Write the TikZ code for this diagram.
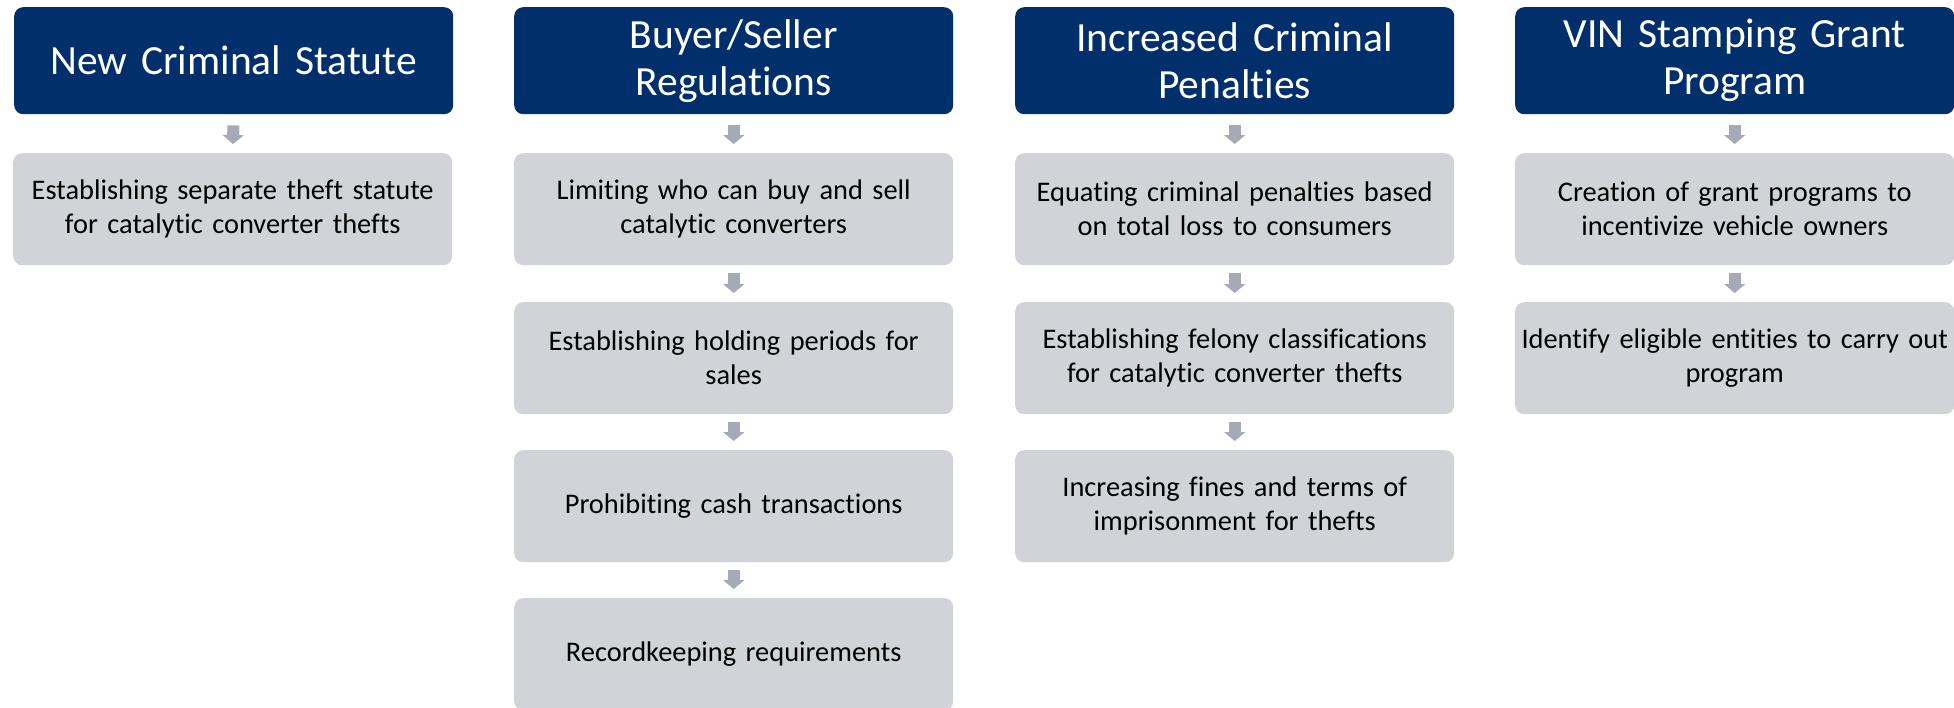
\documentclass[tikz,border=0pt]{standalone}
\usepackage{fontspec}
\setmainfont{Carlito}[Ligatures=NoCommon]
\usetikzlibrary{arrows.meta}
\definecolor{navy}{RGB}{0,47,108}
\definecolor{boxgray}{RGB}{209,211,217}
\definecolor{arrgray}{RGB}{166,169,182}
\tikzset{
  hdr/.style={fill=navy, rounded corners=9pt, minimum width=439pt, minimum height=107pt,
    text width=435pt, inner sep=2pt, align=center, text=white, anchor=north west,
    font=\fontsize{41.5}{47}\selectfont},
  itembox/.style={fill=boxgray, rounded corners=9pt, minimum width=439pt, minimum height=112pt,
    text width=435pt, inner sep=2pt, align=center, text=black, anchor=north west,
    font=\fontsize{28.4}{34}\selectfont},
  dnarrow/.style={draw=arrgray, line width=12pt, -{Triangle[length=9pt,width=21pt]}}
}
\begin{document}
\begin{tikzpicture}[x=1pt,y=-1pt]
\useasboundingbox (0,0) rectangle (1954,707);
\clip (0,0) rectangle (1954,707);
% column 1
\node[hdr] (h1) at (14,7) {New Criminal Statute};
\node[itembox] (a1) at (13,153) {Establishing separate theft statute\\for catalytic converter thefts};
% column 2
\node[hdr] (h2) at (514,7) {Buyer/Seller\\Regulations};
\node[itembox] (b1) at (514,153) {Limiting who can buy and sell\\catalytic converters};
\node[itembox] (b2) at (514,302) {Establishing holding periods for\\sales};
\node[itembox] (b3) at (514,450) {Prohibiting cash transactions};
\node[itembox] (b4) at (514,598) {Recordkeeping requirements};
% column 3
\node[hdr] (h3) at (1015,7) {Increased Criminal\\Penalties};
\node[itembox] (c1) at (1015,153) {Equating criminal penalties based\\on total loss to consumers};
\node[itembox] (c2) at (1015,302) {Establishing felony classifications\\for catalytic converter thefts};
\node[itembox] (c3) at (1015,450) {Increasing fines and terms of\\imprisonment for thefts};
% column 4
\node[hdr] (h4) at (1515,7) {VIN Stamping Grant\\Program};
\node[itembox] (d1) at (1515,153) {Creation of grant programs to\\incentivize vehicle owners};
\node[itembox] (d2) at (1515,302) {Identify eligible entities to carry out\\program};
% arrows
\draw[dnarrow, shorten <=11pt, shorten >=9pt] (h1.south) -- (a1.north);
\draw[dnarrow, shorten <=11pt, shorten >=9pt] (h2.south) -- (b1.north);
\draw[dnarrow, shorten <=8pt, shorten >=9pt] (b1.south) -- (b2.north);
\draw[dnarrow, shorten <=8pt, shorten >=9pt] (b2.south) -- (b3.north);
\draw[dnarrow, shorten <=8pt, shorten >=9pt] (b3.south) -- (b4.north);
\draw[dnarrow, shorten <=11pt, shorten >=9pt] (h3.south) -- (c1.north);
\draw[dnarrow, shorten <=8pt, shorten >=9pt] (c1.south) -- (c2.north);
\draw[dnarrow, shorten <=8pt, shorten >=9pt] (c2.south) -- (c3.north);
\draw[dnarrow, shorten <=11pt, shorten >=9pt] (h4.south) -- (d1.north);
\draw[dnarrow, shorten <=8pt, shorten >=9pt] (d1.south) -- (d2.north);
\end{tikzpicture}
\end{document}
